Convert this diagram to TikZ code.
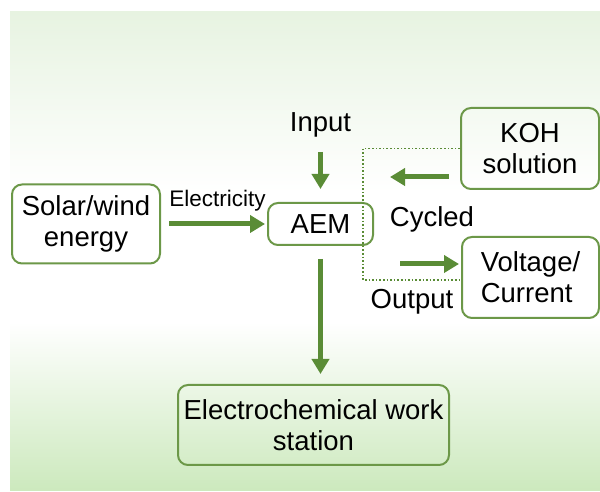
\documentclass[tikz,border=0pt]{standalone}
\usepackage{fontspec}
\setmainfont{Liberation Sans}
\usetikzlibrary{arrows.meta}
\definecolor{boxgreen}{RGB}{108,152,72}
\definecolor{arrowgreen}{RGB}{90,140,54}
\definecolor{bgtop}{RGB}{231,243,225}
\definecolor{bgbot}{RGB}{204,233,189}

\begin{document}
\begin{tikzpicture}[x=1pt,y=1pt,
  box/.style={draw=boxgreen, line width=2pt, rounded corners=10pt, inner sep=0pt, align=center, font=\fontsize{27.5}{31}\selectfont},
  lbl/.style={inner sep=0pt, anchor=base, font=\fontsize{27.5}{31}\selectfont},
  flow/.style={draw=arrowgreen, line width=5pt, -{Triangle[length=15pt,width=17pt]}},
  cycline/.style={draw=arrowgreen, line width=1.8pt, dash pattern=on 1.6pt off 2pt}]
\useasboundingbox (0,0) rectangle (600,492);
\shade[top color=bgtop, bottom color=white] (10,300) rectangle (600,480);
\fill[white] (10,170) rectangle (600,300);
\shade[top color=white, bottom color=bgbot] (10,1) rectangle (600,170);
\node[box, minimum width=148pt, minimum height=79pt] (solar) at (86,268) {Solar/wind\\energy};
\node[box, minimum width=105pt, minimum height=42pt] (aem) at (320.5,268) {AEM};
\node[box, minimum width=138pt, minimum height=81pt] (koh) at (530,343.5) {KOH\\solution};
\node[box, align=left, minimum width=137pt, minimum height=81pt] (volt) at (530.5,214.5) {Voltage/\\Current};
\node[box, minimum width=271pt, minimum height=80pt] (ews) at (313.5,67) {Electrochemical work\\station};
\node[lbl] (input) at (320.5,360) {Input};
\node[lbl, font=\fontsize{22.5}{25}\selectfont] (elec) at (217.5,285) {Electricity};
\node[lbl] (cycled) at (432,265) {Cycled};
\node[lbl] (output) at (412,183) {Output};
\draw[flow, shorten <=14pt, shorten >=13pt] (input.south) -- (input.south |- aem.north);
\draw[flow, shorten <=8pt, shorten >=2pt] (solar.east) -- (aem.west);
\coordinate (kohtip) at (390,315);
\draw[flow, shorten <=11pt] (koh.west |- kohtip) -- (kohtip);
\coordinate (outtail) at (400,228);
\draw[flow, shorten >=2pt] (outtail) -- (outtail -| volt.west);
\draw[flow, shorten <=13pt, shorten >=10pt] (aem.south) -- (aem.south |- ews.north);
\coordinate (cycbend) at (363,212);
\draw[cycline] (koh.west) -| (cycbend) -- (cycbend -| volt.west);
\end{tikzpicture}
\end{document}
